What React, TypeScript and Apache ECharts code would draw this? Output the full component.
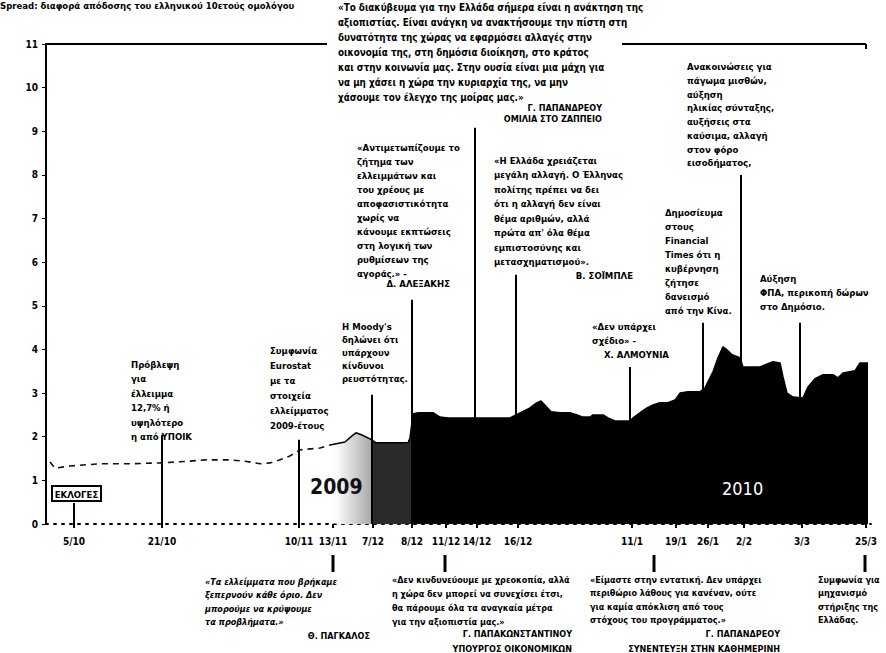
import React, { useEffect, useRef } from "react";
import * as echarts from "echarts";

const FONT = "'Liberation Sans Narrow','DejaVu Sans Condensed','Liberation Sans',Arial,sans-serif";

// Non-linear timeline: each date sits on a "slot" of the chart's own timeline
const tickSlots = [5.6, 23.2, 50.6, 57.4, 65.4, 73.2, 80, 86.2, 94.4, 117.2, 126, 132.4, 139.6, 151.2, 164];
const tickLabels = ["5/10", "21/10", "10/11", "13/11", "7/12", "8/12", "11/12", "14/12", "16/12", "11/1", "19/1", "26/1", "2/2", "3/3", "25/3"];

// spread (percentage points), October – mid November 2009
const octNovSlots = [0.8, 1.8, 4.8, 10.8, 16.8, 22.8, 28.8, 31.8, 36.8, 39.8, 42.8, 44.8, 46.8, 48.8, 50.8, 54.8, 56.8];
const octNovSpread = [1.42, 1.28, 1.33, 1.38, 1.38, 1.40, 1.44, 1.47, 1.47, 1.44, 1.38, 1.40, 1.47, 1.56, 1.70, 1.74, 1.81];

// spread, mid November 2009 – March 2010
const decMarSlots = [56.8, 59.8, 61.2, 62, 63.2, 64.8, 66, 72.4, 72.8, 73.4, 74.4, 77.4, 78.8, 80.4, 92.8, 94.4, 96.8, 98.2, 99, 100, 101, 102.8, 104.8, 106.2, 107.4, 108.8, 109.4, 111.4, 112.4, 113.8, 116.8, 117.4, 118.8, 120.2, 121.4, 122.8, 124.4, 125.8, 126.8, 128.4, 130.8, 131.8, 133.4, 134.4, 135.4, 136.2, 137.2, 138.8, 139.4, 142.8, 145.4, 146.8, 147.4, 148.2, 149.4, 151.4, 152.4, 153.8, 155.4, 157.4, 158.4, 159.4, 161.8, 162.8, 164.4];
const decMarSpread = [1.81, 1.88, 2.02, 2.09, 2.04, 1.95, 1.86, 1.86, 1.97, 2.52, 2.55, 2.55, 2.45, 2.43, 2.43, 2.52, 2.66, 2.78, 2.82, 2.70, 2.57, 2.55, 2.55, 2.50, 2.45, 2.45, 2.50, 2.50, 2.43, 2.36, 2.36, 2.43, 2.55, 2.66, 2.73, 2.78, 2.78, 2.84, 3.00, 3.03, 3.03, 3.12, 3.49, 3.81, 4.06, 3.99, 3.88, 3.81, 3.60, 3.60, 3.72, 3.69, 3.37, 3.00, 2.91, 2.89, 3.14, 3.33, 3.42, 3.42, 3.35, 3.46, 3.51, 3.69, 3.69];

// events marked above the curve: slot and the level where the pointer starts
const eventSlots = [5.6, 23.2, 50.6, 65.2, 73.2, 85.8, 94, 116.8, 131.4, 139, 150.8];
const eventTops = [0.48, 2.04, 1.93, 2.96, 5.14, 9.08, 5.71, 3.6, 4.61, 8.0, 4.61];
// events marked below the axis
const lowerEventSlots = [57.4, 79.8, 121.6, 163.8];

const titleText = ["Spread: διαφορά απόδοσης του ελληνικού 10ετούς ομολόγου"];
const electionText = ["ΕΚΛΟΓΕΣ"];
const noteDeficit = ["Πρόβλεψη", "για", "έλλειμμα", "12,7% ή", "υψηλότερο", "η από ΥΠΟΙΚ"];
const noteEurostat = ["Συμφωνία", "Eurostat", "με τα", "στοιχεία", "ελλείμματος", "2009-έτους"];
const noteMoodys = ["Η Moody's", "δηλώνει ότι", "υπάρχουν", "κίνδυνοι", "ρευστότητας."];
const quoteFitch = ["«Αντιμετωπίζουμε το", "ζήτημα των", "ελλειμμάτων και", "του χρέους με", "αποφασιστικότητα", "χωρίς να", "κάνουμε εκπτώσεις", "στη λογική των", "ρυθμίσεων της", "αγοράς.» -"];
const sigFitch = ["Δ. ΑΛΕΞΑΚΗΣ"];
const quoteZappeio = [
  "«Το διακύβευμα για την Ελλάδα σήμερα είναι η ανάκτηση της",
  "αξιοπιστίας. Είναι ανάγκη να ανακτήσουμε την πίστη στη",
  "δυνατότητα της χώρας να εφαρμόσει αλλαγές στην",
  "οικονομία της, στη δημόσια διοίκηση, στο κράτος",
  "και στην κοινωνία μας. Στην ουσία είναι μια μάχη για",
  "να μη χάσει η χώρα την κυριαρχία της, να μην",
  "χάσουμε τον έλεγχο της μοίρας μας.»",
];
const sigZappeio = ["Γ. ΠΑΠΑΝΔΡΕΟΥ", "ΟΜΙΛΙΑ ΣΤΟ ΖΑΠΠΕΙΟ"];
const quoteSchaeuble = ["«Η Ελλάδα χρειάζεται", "μεγάλη αλλαγή. Ο Έλληνας", "πολίτης πρέπει να δει", "ότι η αλλαγή δεν είναι", "θέμα αριθμών, αλλά", "πρώτα απ' όλα θέμα", "εμπιστοσύνης και", "μετασχηματισμού»."];
const sigSchaeuble = ["Β. ΣΟΪΜΠΛΕ"];
const quoteAlmunia = ["«Δεν υπάρχει", "σχέδιο» -"];
const sigAlmunia = ["Χ. ΑΛΜΟΥΝΙΑ"];
const noteChina = ["Δημοσίευμα", "στους", "Financial", "Times ότι η", "κυβέρνηση", "ζήτησε", "δανεισμό", "από την Κίνα."];
const noteMeasures = ["Ανακοινώσεις για", "πάγωμα μισθών,", "αύξηση", "ηλικίας σύνταξης,", "αυξήσεις στα", "καύσιμα, αλλαγή", "στον φόρο", "εισοδήματος,"];
const noteVat = ["Αύξηση", "ΦΠΑ, περικοπή δώρων", "στο Δημόσιο."];
const quotePangalos = ["«Τα ελλείμματα που βρήκαμε", "ξεπερνούν κάθε όριο. Δεν", "μπορούμε να κρύψουμε", "τα προβλήματα.»"];
const sigPangalos = ["Θ. ΠΑΓΚΑΛΟΣ"];
const quotePapakon = ["«Δεν κινδυνεύουμε με χρεοκοπία, αλλά", "η χώρα δεν μπορεί να συνεχίσει έτσι,", "θα πάρουμε όλα τα αναγκαία μέτρα", "για την αξιοπιστία μας.»"];
const sigPapakon = ["Γ. ΠΑΠΑΚΩΝΣΤΑΝΤΙΝΟΥ", "ΥΠΟΥΡΓΟΣ ΟΙΚΟΝΟΜΙΚΩΝ"];
const quoteIcu = ["«Είμαστε στην εντατική. Δεν υπάρχει", "περιθώριο λάθους για κανέναν, ούτε", "για καμία απόκλιση από τους", "στόχους του προγράμματος.»"];
const sigIcu = ["Γ. ΠΑΠΑΝΔΡΕΟΥ", "ΣΥΝΕΝΤΕΥΞΗ ΣΤΗΝ ΚΑΘΗΜΕΡΙΝΗ"];
const noteSummit = ["Συμφωνία για", "μηχανισμό", "στήριξης της", "Ελλάδας."];

function block(lines: string[], x: number, y: number, lh: number, o: any = {}) {
  return {
    type: "text",
    x,
    y,
    z: 100,
    silent: true,
    style: {
      text: lines.join("\n"),
      fill: o.fill || "#000",
      fontFamily: FONT,
      fontSize: o.size || 9.5,
      fontWeight: o.weight || "bold",
      fontStyle: o.italic ? "italic" : "normal",
      lineHeight: lh,
      align: o.align || "left",
      verticalAlign: "top",
    },
  };
}

export default function App() {
  const ref = useRef<HTMLDivElement>(null);
  useEffect(() => {
    if (!ref.current) return;
    const chart = echarts.init(ref.current, null, { renderer: "svg" });
    const lookup: Record<string, string> = {};
    tickSlots.forEach((s, i) => (lookup[String(s)] = tickLabels[i]));

    const option: any = {
      animation: false,
      backgroundColor: "#fff",
      grid: { left: 46, right: 15, top: 44, bottom: 129, containLabel: false },
      xAxis: {
        type: "value",
        min: 0,
        max: 165,
        splitLine: { show: false },
        axisLine: { show: true, lineStyle: { color: "#000", width: 2, type: [2, 6] } },
        axisTick: { show: true, customValues: tickSlots, length: 4, lineStyle: { color: "#000", width: 2 } },
        axisLabel: {
          customValues: tickSlots,
          formatter: (v: number) => lookup[String(v)] || "",
          color: "#000",
          fontFamily: FONT,
          fontWeight: "bold",
          fontSize: 10,
          margin: 12,
        },
      },
      yAxis: {
        type: "value",
        min: 0,
        max: 11,
        interval: 1,
        splitLine: { show: false },
        axisLine: { show: true, lineStyle: { color: "#000", width: 2 } },
        axisTick: { show: true, length: 4, lineStyle: { color: "#000", width: 1 } },
        axisLabel: { color: "#000", fontFamily: FONT, fontWeight: "bold", fontSize: 10, margin: 8 },
      },
      series: [
        {
          type: "line",
          data: octNovSlots.map((s, i) => [s, octNovSpread[i]]),
          symbol: "none",
          lineStyle: { color: "#111", width: 1.6, type: [6, 5] },
          z: 3,
        },
        {
          type: "line",
          data: decMarSlots.map((s, i) => [s, decMarSpread[i]]),
          symbol: "none",
          lineStyle: { color: "#000", width: 1.5 },
          areaStyle: {
            opacity: 1,
            color: {
              type: "linear",
              x: 0, y: 0, x2: 1, y2: 0,
              colorStops: [
                { offset: 0, color: "rgba(255,255,255,0)" },
                { offset: 0.02, color: "#f2f2f2" },
                { offset: 0.077, color: "#a8a8a8" },
                { offset: 0.078, color: "#2a2a2a" },
                { offset: 0.151, color: "#2a2a2a" },
                { offset: 0.152, color: "#000" },
                { offset: 1, color: "#000" },
              ],
            },
          },
          z: 2,
          markLine: {
            silent: true,
            symbol: "none",
            label: { show: false },
            lineStyle: { color: "#000", width: 2, type: "solid" },
            data: eventSlots.map((s, i) => [
              { coord: [s, eventTops[i]] },
              { coord: [s, 0] },
            ]),
          },
        },
      ],
    };
    chart.setOption(option);

    const px = (s: number) => chart.convertToPixel({ gridIndex: 0 }, [s, 0])[0];
    const y0 = chart.convertToPixel({ gridIndex: 0 }, [0, 0])[1];
    const yTop = chart.convertToPixel({ gridIndex: 0 }, [0, 11])[1];
    const xLeft = px(0);

    const stubs = lowerEventSlots.map((s) => ({
      type: "line",
      z: 100,
      shape: { x1: px(s), y1: y0 + 31, x2: px(s), y2: y0 + 48 },
      style: { stroke: "#000", lineWidth: 3 },
    }));

    const graphic: any[] = [
      // top frame line (interrupted by the quote)
      { type: "line", z: 90, shape: { x1: xLeft, y1: yTop, x2: 327, y2: yTop }, style: { stroke: "#000", lineWidth: 2 } },
      { type: "line", z: 90, shape: { x1: 622, y1: yTop, x2: 866, y2: yTop }, style: { stroke: "#000", lineWidth: 2 } },
      { type: "line", z: 90, shape: { x1: 866, y1: yTop, x2: 866, y2: yTop + 5 }, style: { stroke: "#000", lineWidth: 2 } },
      block(titleText, 0, 0, 11, { size: 9.5 }),
      // elections box
      { type: "rect", z: 100, shape: { x: 52, y: 486, width: 49, height: 15 }, style: { fill: "#fff", stroke: "#000", lineWidth: 2 } },
      block(electionText, 76.5, 488, 12, { align: "center", size: 9.5 }),
      block(noteDeficit, 131, 357, 14.5),
      block(noteEurostat, 270, 343, 15),
      block(noteMoodys, 342, 320, 13),
      block(quoteFitch, 357, 140, 14),
      block(sigFitch, 450, 277, 12, { align: "right" }),
      block(quoteZappeio, 338, 0, 15, { size: 9.8 }),
      block(sigZappeio, 602, 102, 11.5, { align: "right", size: 9 }),
      block(quoteSchaeuble, 494, 153, 14.5),
      block(sigSchaeuble, 633, 269, 12, { align: "right" }),
      block(quoteAlmunia, 592, 320, 13.5),
      block(sigAlmunia, 604, 348, 12),
      block(noteChina, 665, 206, 13.9),
      block(noteMeasures, 687, 60, 13.7),
      block(noteVat, 760, 271, 14),
      block(quotePangalos, 205, 575, 13.5, { italic: true, size: 9 }),
      block(sigPangalos, 370, 630, 12, { align: "right", size: 9 }),
      block(quotePapakon, 392, 573, 14, { size: 9 }),
      block(sigPapakon, 572, 626, 15, { align: "right", size: 9 }),
      block(quoteIcu, 590, 573, 13.5, { size: 9 }),
      block(sigIcu, 780, 626, 15, { align: "right", size: 9 }),
      block(noteSummit, 818, 573, 13.5, { size: 9 }),
      block(["2009"], 310, 476, 22, { size: 21, fill: "#111" }),
      block(["2010"], 722, 478, 20, { size: 18, weight: "normal", fill: "#fff" }),
      ...stubs,
    ];
    chart.setOption({ graphic });

    return () => chart.dispose();
  }, []);
  return (
    <div
      ref={ref}
      style={{ position: "absolute", left: 0, top: 0, width: 886, height: 653, background: "#fff" }}
    />
  );
}
